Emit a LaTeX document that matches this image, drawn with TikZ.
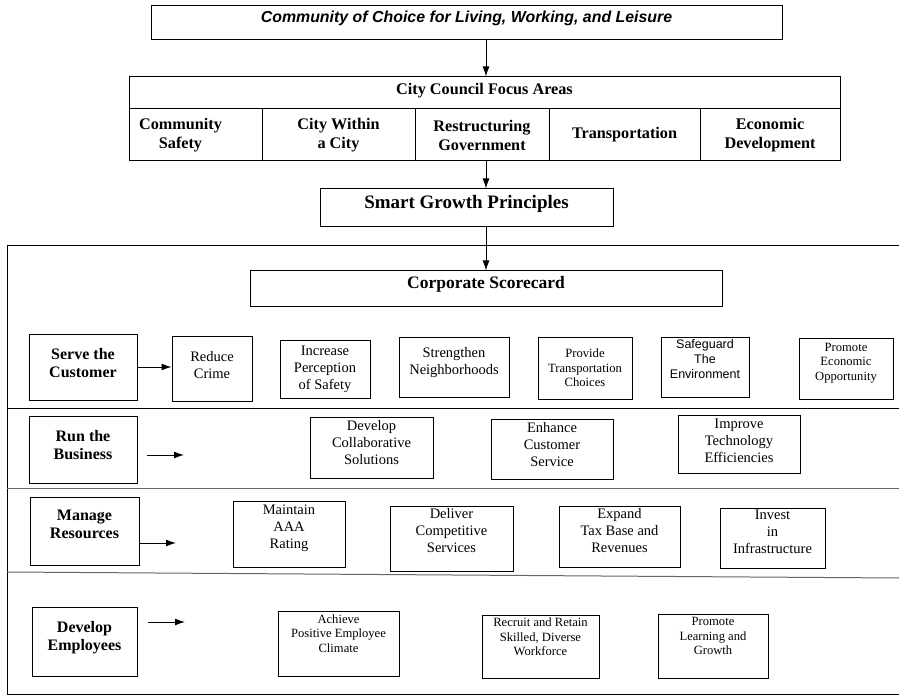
\documentclass[tikz,border=0pt]{standalone}
\usepackage{fontspec}
\setmainfont{Liberation Serif}
\newfontfamily\arialfont{Liberation Sans}
\usetikzlibrary{arrows.meta}
\newcommand{\fs}[2]{\fontsize{#1}{#2}\selectfont}

\begin{document}
\begin{tikzpicture}[>={Latex[length=10pt,width=7pt]},x=1pt,y=-1pt,line width=1pt,
  box/.style={draw,align=center,inner sep=1pt},
  sz/.style 2 args={minimum width=#1pt,minimum height=#2pt},
  up/.style={text depth=#1pt},
  goal/.style={box,font=\fs{14.5}{17}},
  smallgoal/.style={box,font=\fs{12.6}{14.5}},
  persp/.style={box,font=\fs{16}{18}\bfseries},
  area/.style={box,font=\fs{16.2}{19}\bfseries},
  sep/.style={draw=black!60}]
\useasboundingbox (0,0) rectangle (900,695);

\node[box,sz={631}{34},up=12,font=\arialfont\fs{15.9}{18}\bfseries\itshape] (vision) at (466.5,23)
  {Community of Choice for Living, Working, and Leisure};

\node[area,sz={711}{32},up=9] (focus) at (484.5,93) {City Council Focus Areas};
\node[area,sz={133}{52},label={[area,draw=none,xshift=-15pt]center:{Community\\Safety}}] (safetyarea) at (195.5,135) {};
\node[area,sz={153}{52}] (cityarea) at (338.5,135) {City Within\\a City};
\node[area,sz={134}{52}] (restr) at (482,135) {Restructuring\\Government};
\node[area,sz={151}{52}] (transarea) at (624.5,135) {Transportation};
\node[area,sz={140}{52}] (econarea) at (770,135) {Economic\\Development};

\node[box,sz={293}{38},up=12,font=\fs{19}{22}\bfseries] (sg) at (466.5,208) {Smart Growth Principles};
\node[box,sz={472}{35},up=13,font=\fs{17.5}{20}\bfseries] (corp) at (486,288.5) {Corporate Scorecard};

\draw[->] (vision.south -| corp) -- (focus.north -| corp);
\draw[->] (restr.south -| corp) -- (sg.north -| corp);
\draw[->] (sg.south -| corp) -- (corp.north);

\draw (899,246) -- (7,246) -- (7,694) -- (899,694);
\draw (7,408) -- (899,408);
\draw[sep] (7,488) -- (899,488);
\draw[sep] (7,572) -- (899,578);

\node[persp,sz={108}{66},up=9] (serve) at (83,367) {Serve the\\Customer};
\node[goal,sz={80}{65},up=7] (crime) at (212,368.5) {Reduce\\Crime};
\node[goal,sz={90}{58}] (safety) at (325,369) {Increase\\Perception\\of Safety};
\node[goal,sz={110}{60},up=13] (nbhd) at (454,367) {Strengthen\\Neighborhoods};
\node[smallgoal,sz={94}{62}] (transp) at (585,368) {Provide\\Transportation\\Choices};
\node[box,sz={88}{60},up=17,font=\arialfont\fs{12.5}{15}] (environ) at (705,367) {Safeguard\\The\\Environment};
\node[smallgoal,sz={94}{61},up=14] (econ) at (846,368.5) {Promote\\Economic\\Opportunity};
\draw[->] (serve.east) -- (serve.east -| crime.west);

\node[persp,sz={108}{67},up=10] (run) at (83,449.5) {Run the\\Business};
\node[goal,sz={123}{61},up=11] (collab) at (371.5,447.5) {Develop\\Collaborative\\Solutions};
\node[goal,sz={122}{60},up=10] (custsvc) at (552,449) {Enhance\\Customer\\Service};
\node[goal,sz={122}{58},up=7] (tech) at (739,444) {Improve\\Technology\\Efficiencies};
\coordinate (runA) at (147,455);
\coordinate (runB) at (184,455);
\draw[->] (runA) -- (runB);

\node[persp,sz={109}{68},up=14] (manage) at (84.5,531) {Manage\\Resources};
\node[goal,sz={112}{66},up=15] (aaa) at (289,534) {Maintain\\AAA\\Rating};
\node[goal,sz={123}{65},up=16] (compete) at (451.5,538.5) {Deliver\\Competitive\\Services};
\node[goal,sz={121}{61},up=12] (tax) at (619.5,536.5) {Expand\\Tax Base and\\Revenues};
\node[goal,sz={105}{60},up=12] (infra) at (772.5,538) {Invest\\in\\Infrastructure};
\coordinate (manA) at (139,543);
\coordinate (manB) at (176,543);
\draw[->] (manA) -- (manB);

\node[persp,sz={105}{69},up=11] (develop) at (84.5,641.5) {Develop\\Employees};
\node[smallgoal,sz={121}{65},up=20] (climate) at (338.5,643.5) {Achieve\\Positive Employee\\Climate};
\node[smallgoal,sz={117}{63},up=19] (workforce) at (540.5,646.5) {Recruit and Retain\\Skilled, Diverse\\Workforce};
\node[smallgoal,sz={110}{64},up=20] (learning) at (713,646) {Promote\\Learning and\\Growth};
\coordinate (devA) at (148,622);
\coordinate (devB) at (185,622);
\draw[->] (devA) -- (devB);
\end{tikzpicture}
\end{document}
